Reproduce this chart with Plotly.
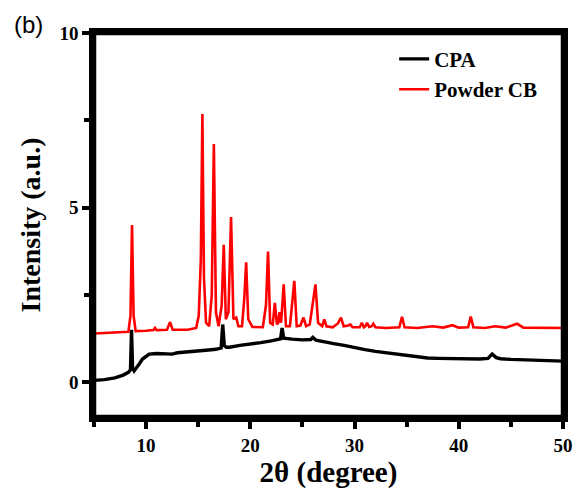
import plotly.graph_objects as go

# ---- data ----
cpa_x = [5.0, 6.0, 7.0, 7.8, 8.3, 8.5, 8.6, 8.7, 8.85, 9.0, 9.3, 9.65, 10.0, 10.3, 11.0, 12.0, 12.5,
         13.0, 14.0, 15.0, 16.0, 16.7, 17.2, 17.35, 17.5, 17.7, 18.0, 19.0, 20.0, 21.0, 22.0,
         22.9, 23.05, 23.2, 24.0, 25.0, 25.8, 26.0, 26.3, 27.0, 28.0, 29.0, 30.0, 31.0,
         32.0, 33.0, 34.0, 35.0, 36.0, 37.0, 38.0, 39.0, 40.0, 41.0, 42.0, 42.8, 43.2,
         43.6, 44.0, 45.0, 46.0, 47.0, 48.0, 49.0, 50.0]
cpa_y = [0.05, 0.07, 0.12, 0.2, 0.28, 0.35, 1.5, 0.4, 0.32, 0.37, 0.5, 0.66, 0.75, 0.8, 0.82, 0.8, 0.8,
         0.84, 0.86, 0.88, 0.92, 0.94, 0.98, 1.65, 1.05, 1.0, 1.0, 1.05, 1.08, 1.13, 1.18,
         1.24, 1.55, 1.26, 1.23, 1.21, 1.22, 1.28, 1.2, 1.15, 1.1, 1.05, 0.98, 0.93,
         0.88, 0.84, 0.8, 0.76, 0.72, 0.69, 0.68, 0.67, 0.66, 0.65, 0.66, 0.68, 0.8,
         0.7, 0.67, 0.65, 0.64, 0.63, 0.62, 0.61, 0.6]

cb_x = [5.0, 7.0, 8.3, 8.5, 8.65, 8.8, 9.0, 10.0, 10.7, 10.85, 11.0, 12.0, 12.3, 12.55,
        14.0, 14.8, 15.05, 15.25, 15.4, 15.55, 15.75, 16.05, 16.3, 16.5, 16.7, 16.95,
        17.25, 17.45, 17.65, 17.9, 18.15, 18.38, 18.65, 18.85, 19.2, 19.42, 19.6, 19.8,
        20.2, 21.2, 21.5, 21.7, 21.9, 22.15, 22.35, 22.55, 22.68, 22.8, 22.95, 23.2, 23.42,
        23.8, 24.0, 24.22, 24.45, 24.8, 25.1, 25.35, 25.7, 26.0, 26.25, 26.5, 26.9, 27.1,
        27.3, 27.9, 28.4, 28.7, 28.95, 29.4, 29.6, 29.8, 30.5, 30.7, 30.9, 31.05, 31.2,
        31.4, 31.65, 31.8, 32.0, 33.0, 34.3, 34.55, 34.8, 36.0, 37.5, 38.5, 39.4, 40.0,
        40.9, 41.15, 41.4, 42.5, 43.5, 44.5, 45.6, 46.2, 48.0, 50.0]
cb_y = [1.39, 1.42, 1.44, 1.9, 4.5, 1.9, 1.46, 1.47, 1.49, 1.55, 1.49, 1.5, 1.72, 1.5,
        1.5, 1.55, 1.9, 3.5, 7.68, 3.0, 1.7, 1.6, 2.5, 6.82, 2.0, 1.6,
        2.2, 3.93, 1.8, 2.0, 4.73, 1.8, 1.85, 1.6, 1.6, 2.4, 3.43, 1.8,
        1.58, 1.57, 2.2, 3.74, 1.7, 1.65, 2.27, 1.65, 1.7, 2.0, 1.7, 2.8, 1.6,
        1.6, 2.2, 2.9, 1.6, 1.62, 1.85, 1.6, 1.65, 2.35, 2.8, 1.7, 1.6, 1.8,
        1.6, 1.57, 1.68, 1.85, 1.6, 1.62, 1.65, 1.57, 1.57, 1.7, 1.57, 1.6, 1.7,
        1.58, 1.6, 1.67, 1.57, 1.55, 1.57, 1.87, 1.57, 1.55, 1.6, 1.56, 1.63, 1.56,
        1.57, 1.88, 1.57, 1.55, 1.6, 1.56, 1.67, 1.56, 1.55, 1.55]

x_ticks = [10, 20, 30, 40, 50]
y_ticks = [0, 5, 10]

serif = "Liberation Serif, Times New Roman, serif"

fig = go.Figure()
fig.add_trace(go.Scatter(x=cpa_x, y=cpa_y, mode="lines", name="CPA",
                         line=dict(color="#000000", width=3.4)))
fig.add_trace(go.Scatter(x=cb_x, y=cb_y, mode="lines", name="Powder CB",
                         line=dict(color="#ff0000", width=2.6)))

fig.update_layout(
    width=577, height=487,
    margin=dict(l=86, r=17, t=25, b=75),
    paper_bgcolor="white", plot_bgcolor="white",
    showlegend=True,
    legend=dict(x=0.64, y=0.985, xanchor="left", yanchor="top",
                bgcolor="rgba(0,0,0,0)", borderwidth=0,
                font=dict(family=serif, size=21, color="black", weight="bold"),
                tracegroupgap=0),
    annotations=[dict(text="(b)", xref="paper", yref="paper", x=-0.175, y=1.063,
                      xanchor="left", yanchor="top", showarrow=False,
                      font=dict(family="Liberation Sans, Arial, sans-serif", size=24, color="black"))],
    shapes=[dict(type="rect", xref="paper", yref="paper", x0=0, y0=0, x1=1, y1=1,
                 line=dict(color="black", width=4.5), layer="above")],
)

fig.update_xaxes(
    range=[5, 50], tickmode="array", tickvals=x_ticks, ticktext=[str(v) for v in x_ticks],
    showgrid=False, zeroline=False,
    showline=True, linecolor="#000000", linewidth=4.5, mirror=True,
    ticks="outside", ticklen=7, tickwidth=4, tickcolor="#000000",
    minor=dict(ticks="outside", tick0=5, dtick=10, ticklen=5, tickwidth=3.5, tickcolor="#000000", showgrid=False),
    tickfont=dict(family=serif, size=19, color="black", weight="bold"),
    title=dict(text="2θ (degree)", font=dict(family=serif, size=29, color="black", weight="bold"), standoff=7),
)
fig.update_yaxes(
    range=[-1, 10], tickmode="array", tickvals=y_ticks, ticktext=[str(v) for v in y_ticks],
    showgrid=False, zeroline=False,
    showline=True, linecolor="#000000", linewidth=4.5, mirror=True,
    ticks="outside", ticklen=7, tickwidth=4, tickcolor="#000000",
    minor=dict(ticks="outside", tick0=2.5, dtick=5, ticklen=5, tickwidth=3.5, tickcolor="#000000", showgrid=False),
    tickfont=dict(family=serif, size=19, color="black", weight="bold"),
    title=dict(text="Intensity (a.u.)", font=dict(family=serif, size=28, color="black", weight="bold"), standoff=12),
)

fig.write_html("out.html")
